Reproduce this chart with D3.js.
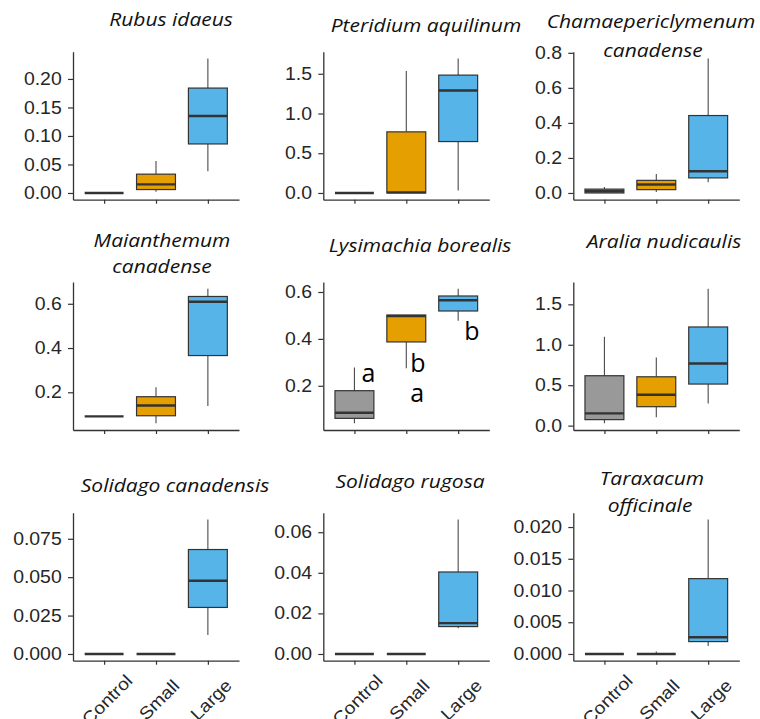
<!DOCTYPE html>
<html>
<head>
<meta charset="utf-8">
<script src="https://cdn.jsdelivr.net/npm/d3@7"></script>
<style>
  html, body { margin: 0; padding: 0; background: #fff; }
  svg { display: block; }
</style>
</head>
<body>
<svg id="chart" width="760" height="719"></svg>
<script>
// Treatments along each x axis
const treatments = ["Control", "Small", "Large"];
const fills = ["#999999", "#E69F00", "#56B4E9"];

// Species shown in each panel (row by row), split into title lines
const species = [
  ["Rubus idaeus"],
  ["Pteridium aquilinum"],
  ["Chamaepericlymenum", "canadense"],
  ["Maianthemum", "canadense"],
  ["Lysimachia borealis"],
  ["Aralia nudicaulis"],
  ["Solidago canadensis"],
  ["Solidago rugosa"],
  ["Taraxacum", "officinale"]
];

// Five-number summaries [min, q1, median, q3, max], one per species
const controlStats = [
  [0, 0, 0, 0, 0],
  [0, 0, 0, 0, 0],
  [0, 0, 0.010, 0.022, 0.034],
  [0.091, 0.091, 0.091, 0.091, 0.091],
  [0.040, 0.061, 0.085, 0.179, 0.278],
  [0.029, 0.074, 0.152, 0.617, 1.10],
  [0, 0, 0, 0, 0],
  [0, 0, 0, 0, 0],
  [0, 0, 0, 0, 0]
];
const smallStats = [
  [0.002, 0.006, 0.015, 0.033, 0.056],
  [0, 0, 0.008, 0.769, 1.534],
  [0.006, 0.019, 0.048, 0.072, 0.109],
  [0.060, 0.094, 0.140, 0.180, 0.223],
  [0.275, 0.387, 0.497, 0.502, 0.502],
  [0.103, 0.234, 0.382, 0.604, 0.843],
  [0, 0, 0, 0, 0],
  [0, 0, 0, 0, 0],
  [0, 0, 0, 0, 0.0004]
];
const largeStats = [
  [0.038, 0.086, 0.135, 0.184, 0.236],
  [0.03, 0.647, 1.29, 1.483, 1.693],
  [0.061, 0.086, 0.124, 0.442, 0.768],
  [0.138, 0.366, 0.609, 0.633, 0.668],
  [0.477, 0.519, 0.565, 0.583, 0.614],
  [0.275, 0.514, 0.768, 1.22, 1.693],
  [0.0124, 0.0303, 0.0477, 0.068, 0.0876],
  [0.0127, 0.0135, 0.0152, 0.0404, 0.0663],
  [0.00127, 0.00195, 0.00264, 0.01187, 0.0212]
];

// Y tick labels for each panel
const yTickLabels = [
  ["0.00", "0.05", "0.10", "0.15", "0.20"],
  ["0.0", "0.5", "1.0", "1.5"],
  ["0.0", "0.2", "0.4", "0.6", "0.8"],
  ["0.2", "0.4", "0.6"],
  ["0.2", "0.4", "0.6"],
  ["0.0", "0.5", "1.0", "1.5"],
  ["0.000", "0.025", "0.050", "0.075"],
  ["0.00", "0.02", "0.04", "0.06"],
  ["0.000", "0.005", "0.010", "0.015", "0.020"]
];

// Significance letters on the Lysimachia panel: [treatment, letter, value height]
const lysimachiaLetters = [
  ["Control", "a", 0.214],
  ["Small", "b", 0.257],
  ["Small", "a", 0.132],
  ["Large", "b", 0.396]
];

// ---- layout ----
const colX = [73, 323.3, 573.3];
const rowTop = [51.7, 282, 512.7];
const plotW = 166, plotH = 148;
const titleLayout = [
  { cx: [171], y: [26] },
  { cx: [426], y: [32] },
  { cx: [651, 653], y: [28, 57] },
  { cx: [162, 162], y: [247, 273] },
  { cx: [420], y: [252] },
  { cx: [664], y: [248] },
  { cx: [175], y: [492] },
  { cx: [410], y: [488] },
  { cx: [652, 650], y: [485, 512] }
];
const letterDx = { Control: 7, Small: 4, Large: 6 };
const textStretch = 1.11;
const titleStretch = 1.2;

const svg = d3.select("#chart");
const x = d3.scalePoint().domain(treatments).range([0, plotW]).padding(0.6);
const boxW = x.step() * 0.75;
const fillOf = d3.scaleOrdinal().domain(treatments).range(fills);

species.forEach((lines, i) => {
  const col = i % 3, row = Math.floor(i / 3);
  const g = svg.append("g").attr("transform", `translate(${colX[col]},${rowTop[row]})`);
  const stats = [controlStats[i], smallStats[i], largeStats[i]];
  const lo = d3.min(stats, s => s[0]), hi = d3.max(stats, s => s[4]);
  const pad = (hi - lo) * 0.05;
  const y = d3.scaleLinear().domain([lo - pad, hi + pad]).range([plotH, 0]);

  // boxes
  const boxes = g.selectAll("g.box")
    .data(treatments.map((t, k) => ({ t, s: stats[k] })))
    .join("g").attr("class", "box")
    .attr("transform", d => `translate(${x(d.t)},0)`);

  boxes.append("line")
    .attr("x1", 0).attr("x2", 0)
    .attr("y1", d => y(d.s[4])).attr("y2", d => y(d.s[3]))
    .attr("stroke", "#4a4a4a").attr("stroke-width", 1.1);
  boxes.append("line")
    .attr("x1", 0).attr("x2", 0)
    .attr("y1", d => y(d.s[1])).attr("y2", d => y(d.s[0]))
    .attr("stroke", "#4a4a4a").attr("stroke-width", 1.1);
  boxes.append("rect")
    .attr("x", -boxW / 2).attr("width", boxW)
    .attr("y", d => y(d.s[3]))
    .attr("height", d => y(d.s[1]) - y(d.s[3]))
    .attr("fill", d => fillOf(d.t))
    .attr("stroke", "#333").attr("stroke-width", 1.2);
  boxes.append("line")
    .attr("x1", -boxW / 2).attr("x2", boxW / 2)
    .attr("y1", d => y(d.s[2])).attr("y2", d => y(d.s[2]))
    .attr("stroke", "#333").attr("stroke-width", 2.4);

  // axes
  const tickVals = yTickLabels[i].map(Number);
  const yAxis = g.append("g")
    .call(d3.axisLeft(y).tickValues(tickVals)
      .tickFormat((d, k) => yTickLabels[i][k])
      .tickSize(5).tickSizeOuter(0));
  const xAxis = g.append("g").attr("transform", `translate(0,${plotH})`)
    .call(d3.axisBottom(x).tickSize(4).tickSizeOuter(0).tickFormat(""));

  [yAxis, xAxis].forEach(a => {
    a.select(".domain").attr("stroke", "#333").attr("stroke-width", 1.3);
    a.selectAll(".tick line").attr("stroke", "#333").attr("stroke-width", 1.2);
  });
  yAxis.selectAll(".tick text")
    .attr("font-family", "'Liberation Sans', Arial, sans-serif")
    .attr("font-size", 17.5)
    .attr("fill", "#262626")
    .attr("x", -11.3 / textStretch)
    .attr("transform", `scale(${textStretch},1)`);

  if (row === 2) {
    g.selectAll("text.xlab").data(treatments).join("text")
      .attr("class", "xlab")
      .attr("transform", d => `translate(${x(d) + 3},${plotH + 39}) rotate(-45) scale(${textStretch},1)`)
      .attr("text-anchor", "middle")
      .attr("dominant-baseline", "central")
      .attr("font-family", "'Liberation Sans', Arial, sans-serif")
      .attr("font-size", 17.5)
      .attr("fill", "#262626")
      .text(d => d);
  }

  if (i === 4) {
    g.selectAll("text.sig").data(lysimachiaLetters).join("text")
      .attr("class", "sig")
      .attr("x", d => x(d[0]) + letterDx[d[0]])
      .attr("y", d => y(d[2]))
      .attr("font-family", "'Open Sans', sans-serif")
      .attr("font-size", 25)
      .attr("fill", "#000")
      .text(d => d[1]);
  }

  // title
  const tl = titleLayout[i];
  lines.forEach((line, k) => {
    svg.append("text")
      .attr("transform", `translate(${tl.cx[k]},${tl.y[k]}) scale(${titleStretch},1)`)
      .attr("text-anchor", "middle")
      .attr("font-family", "'Open Sans', sans-serif")
      .attr("font-style", "italic")
      .attr("font-size", 17.5)
      .attr("fill", "#111")
      .text(line);
  });
});
</script>
</body>
</html>
